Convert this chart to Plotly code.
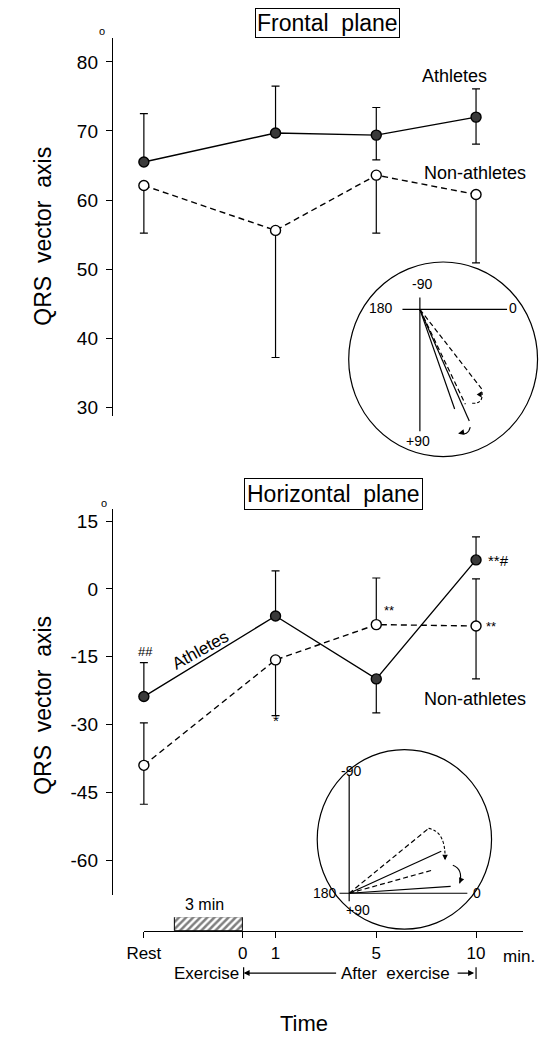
import math
import plotly.graph_objects as go

W, H = 539, 1037
FONT = "Liberation Sans, Arial, sans-serif"

# ---------------- data ----------------
time_labels = ["Rest", "1", "5", "10"]
axis_tick_labels = ["Rest", "0", "1", "5", "10"]

# Frontal plane (degrees)
frontal_ath = [65.5, 69.7, 69.4, 72.0]
frontal_ath_err_up = [7.0, 6.8, 4.0, 4.1]
frontal_ath_err_dn = [0.0, 0.0, 3.6, 3.9]
frontal_non = [62.1, 55.6, 63.6, 60.8]
frontal_non_err_up = [0.0, 0.0, 0.0, 0.0]
frontal_non_err_dn = [6.9, 18.4, 8.4, 9.9]
frontal_ticks = [30, 40, 50, 60, 70, 80]

# Horizontal plane (degrees)
horiz_ath = [-23.8, -6.0, -19.9, 6.4]
horiz_ath_err_up = [7.5, 10.0, 0.0, 5.1]
horiz_ath_err_dn = [0.0, 0.0, 7.5, 0.0]
horiz_non = [-39.0, -15.7, -7.9, -8.2]
horiz_non_err_up = [9.4, 0.0, 10.3, 10.4]
horiz_non_err_dn = [8.6, 12.3, 0.0, 11.7]
horiz_ticks = [15, 0, -15, -30, -45, -60]
horiz_tick_text = ["15", "0", "-15", "-30", "-45", "-60"]

# Inset vector diagrams (angles in degrees, +90 downward)
frontal_vec_solid = [70.2, 65.5]
frontal_vec_dashed = [51.3, 63.7]
horiz_vec_solid = [-23.9, -3.8]
horiz_vec_dashed = [-38.4, -15.1]

# ---------------- layout helpers ----------------
# position of each time label along the (non-linear) time axis
POS = {"Rest": 0.0, "0": 0.99, "1": 1.32, "5": 2.33, "10": 3.33}
X0_PX, UNIT_PX = 131, 103.0
EX_START = 0.31  # start of 3-min exercise bar on axis


def px2x(px):
    return (px - X0_PX) / UNIT_PX


def pxx(px):
    return px / W


def pxy(py):
    return 1 - py / H


xs = [POS[t] for t in time_labels]

fig = go.Figure()


def series(x, y, up, dn, xa, ya, filled, name):
    fig.add_trace(go.Scatter(
        x=x, y=y, xaxis=xa, yaxis=ya, name=name, mode="lines+markers",
        line=dict(color="black", width=1.4, dash=None if filled else "6px,4px"),
        marker=dict(size=10,
                    color="#3a3a3a" if filled else "white",
                    line=dict(color="black", width=1.4)),
        error_y=dict(type="data", symmetric=False, array=up, arrayminus=dn,
                     color="black", thickness=1.2, width=4),
        showlegend=False, cliponaxis=False,
    ))


series(xs, frontal_ath, frontal_ath_err_up, frontal_ath_err_dn, "x", "y", True, "Athletes")
series(xs, frontal_non, frontal_non_err_up, frontal_non_err_dn, "x", "y", False, "Non-athletes")
series(xs, horiz_ath, horiz_ath_err_up, horiz_ath_err_dn, "x2", "y2", True, "Athletes")
series(xs, horiz_non, horiz_non_err_up, horiz_non_err_dn, "x2", "y2", False, "Non-athletes")

# exercise bar on the time axis
fig.add_trace(go.Bar(
    x=[(EX_START + POS["0"]) / 2], y=[1], base=[0], width=[POS["0"] - EX_START],
    xaxis="x3", yaxis="y3",
    marker=dict(color="white", line=dict(color="black", width=1),
                pattern=dict(shape="/", fgcolor="black", bgcolor="white", size=5, solidity=0.5)),
    showlegend=False,
))

# inset vectors
VEC_LEN_F = {"solid": [106, 123], "dashed": [102, 106]}
VEC_LEN_H = {"solid": [104, 105], "dashed": [105, 88]}


def vectors(angles, lens, xa, ya, dash):
    for a, L in zip(angles, lens):
        r = math.radians(a)
        fig.add_trace(go.Scatter(
            x=[0, L * math.cos(r)], y=[0, -L * math.sin(r)], xaxis=xa, yaxis=ya,
            mode="lines", line=dict(color="black", width=1.2, dash=dash),
            showlegend=False, hoverinfo="skip"))


vectors(frontal_vec_solid, VEC_LEN_F["solid"], "x4", "y4", None)
vectors(frontal_vec_dashed, VEC_LEN_F["dashed"], "x4", "y4", "5px,3px")
vectors(horiz_vec_solid, VEC_LEN_H["solid"], "x5", "y5", None)
vectors(horiz_vec_dashed, VEC_LEN_H["dashed"], "x5", "y5", "5px,3px")

# ---------------- axes ----------------
xr = [px2x(98), px2x(539)]
hidden = dict(visible=False, showgrid=False, zeroline=False)
yax_common = dict(anchor="free", position=98 / W, showline=True, linecolor="black", linewidth=1.3,
                  ticks="outside", ticklen=6, tickwidth=1.2, tickcolor="black", showgrid=False,
                  zeroline=False, tickfont=dict(family=FONT, size=19, color="black"),
                  ticklabelstandoff=4)

fig.update_layout(
    width=W, height=H, margin=dict(l=0, r=0, t=0, b=0),
    paper_bgcolor="white", plot_bgcolor="rgba(0,0,0,0)",
    font=dict(family=FONT, color="black"),
    xaxis=dict(domain=[98 / W, 1], range=xr, anchor="y", **hidden),
    yaxis=dict(domain=[pxy(417), pxy(38)], range=[28.70, 83.47], tickvals=frontal_ticks, **yax_common),
    xaxis2=dict(domain=[98 / W, 1], range=xr, anchor="y2", **hidden),
    yaxis2=dict(domain=[pxy(897), pxy(510)], range=[-67.72, 17.65], tickvals=horiz_ticks,
                ticktext=horiz_tick_text, **yax_common),
    xaxis3=dict(domain=[131 / W, 522 / W], range=[0, px2x(522)], anchor="y3", showline=True,
                linecolor="black", linewidth=1.3, ticks="outside", ticklen=6, tickwidth=1.2,
                tickcolor="black", tickvals=[POS[t] for t in axis_tick_labels],
                ticktext=axis_tick_labels, tickfont=dict(family=FONT, size=17, color="black"),
                showgrid=False, zeroline=False),
    yaxis3=dict(domain=[pxy(933), pxy(919)], range=[0, 1], anchor="x3", **hidden),
    xaxis4=dict(domain=[330 / W, 1], range=[-86, 123], anchor="y4", **hidden),
    yaxis4=dict(domain=[pxy(470), pxy(255)], range=[-160, 55], anchor="x4", **hidden),
    xaxis5=dict(domain=[300 / W, 500 / W], range=[-43, 157], anchor="y5", **hidden),
    yaxis5=dict(domain=[pxy(945), pxy(740)], range=[-50, 155], anchor="x5", **hidden),
    bargap=0,
)

# ---------------- annotations ----------------
anns = []


def ann(text, px, py, size, xanchor="center", **kw):
    d = dict(x=pxx(px), y=pxy(py), xref="paper", yref="paper", text=text, showarrow=False,
             font=dict(family=FONT, size=size, color="black"), xanchor=xanchor, yanchor="middle")
    d.update(kw)
    anns.append(d)


def iann(text, x, y, xa, ya, size=14):
    anns.append(dict(x=x, y=y, xref=xa, yref=ya, text=text, showarrow=False,
                     font=dict(family=FONT, size=size, color="black"),
                     xanchor="center", yanchor="middle"))


ann("Frontal  plane", 321, 23, 23, bordercolor="black", borderwidth=1, borderpad=1)
ann("Horizontal  plane", 327, 495, 23, bordercolor="black", borderwidth=1, borderpad=2)
ann("QRS  vector  axis", 26, 237, 23, textangle=-90)
ann("QRS  vector  axis", 26, 707, 23, textangle=-90)
ann("o", 88, 31, 11)
ann("o", 90, 504, 11)

ann("Athletes", 452, 76, 18)
ann("Non-athletes", 473, 173, 18)

ann("##", 133, 653, 13)
ann("Athletes", 189, 652, 17, textangle=-29)
ann("*", 267, 722, 15)
ann("**", 384, 612, 13)
ann("**#", 497, 562, 15)
ann("**", 489, 628, 13)
ann("Non-athletes", 473, 700, 18)

ann("3 min", 194, 906, 16)
ann("min.", 518, 958, 17)
ann("Exercise", 231, 975, 17, xanchor="right")
ann("After  exercise", 391, 975, 17)
ann("Time", 296, 1025, 22)

# arrows below axis (ax/ay in pixels relative to head)
anns.append(dict(x=pxx(234), y=pxy(975), ax=94, ay=0, xref="paper", yref="paper",
                 text="", showarrow=True, arrowhead=2,
                 arrowwidth=1.2, arrowsize=1, arrowcolor="black"))
anns.append(dict(x=pxx(472), y=pxy(975), ax=-18, ay=0, xref="paper", yref="paper",
                 text="", showarrow=True, arrowhead=2,
                 arrowwidth=1.2, arrowsize=1, arrowcolor="black"))

# inset labels
iann("-90", 2, 25, "x4", "y4")
iann("180", -40, 1, "x4", "y4")
iann("0", 96, 1, "x4", "y4")
iann("+90", -2, -132, "x4", "y4")
iann("-90", 2, 123, "x5", "y5")
iann("180", -25, 0, "x5", "y5")
iann("0", 132, 0, "x5", "y5")
iann("+90", 9, -17, "x5", "y5")


def arrowhead(x, y, ax, ay, xa, ya):
    anns.append(dict(x=x, y=y, ax=ax, ay=ay, xref=xa, yref=ya, axref=xa, ayref=ya, text="",
                     showarrow=True, arrowhead=2, arrowsize=1, arrowwidth=1.1, arrowcolor="black"))


arrowhead(64, -82, 61, -87, "x4", "y4")
arrowhead(40, -124, 45, -123, "x4", "y4")
arrowhead(99, 33, 99, 39, "x5", "y5")
arrowhead(114, 10, 116, 15, "x5", "y5")

fig.update_layout(annotations=anns)

# ---------------- shapes ----------------
shapes = []


def pline(x0, y0, x1, y1, w=1.2):
    shapes.append(dict(type="line", xref="paper", yref="paper", x0=pxx(x0), y0=pxy(y0),
                       x1=pxx(x1), y1=pxy(y1), line=dict(color="black", width=w)))


pline(234, 969, 234, 981)
pline(474, 969, 474, 981)


def iline(x0, y0, x1, y1, xa, ya, w=1.2, dash=None):
    shapes.append(dict(type="line", xref=xa, yref=ya, x0=x0, y0=y0, x1=x1, y1=y1,
                       line=dict(color="black", width=w, dash=dash)))


# frontal inset
shapes.append(dict(type="circle", xref="x4", yref="y4", x0=-73.5, x1=121.5, y0=-147.5, y1=47.5,
                   line=dict(color="black", width=1.2)))
iline(-18, 0, 90, 0, "x4", "y4")
iline(0, 12, 0, -122, "x4", "y4")
shapes.append(dict(type="path", xref="x4", yref="y4", path="M 54 -94 Q 66 -95 64 -82",
                   line=dict(color="black", width=1.1, dash="3px,2px")))
shapes.append(dict(type="path", xref="x4", yref="y4", path="M 52 -118 Q 50 -127 40 -124",
                   line=dict(color="black", width=1.1)))

# horizontal inset
shapes.append(dict(type="circle", xref="x5", yref="y5", x0=-33, x1=147, y0=-36, y1=144,
                   line=dict(color="black", width=1.2)))
iline(-10, 0, 122, 0, "x5", "y5")
iline(0, 118, 0, -8, "x5", "y5")
shapes.append(dict(type="path", xref="x5", yref="y5", path="M 82 65 Q 100 62 99 33",
                   line=dict(color="black", width=1.1, dash="3px,2px")))
shapes.append(dict(type="path", xref="x5", yref="y5", path="M 107 28 Q 118 24 114 10",
                   line=dict(color="black", width=1.1)))

fig.update_layout(shapes=shapes)

fig.write_html("out.html")
